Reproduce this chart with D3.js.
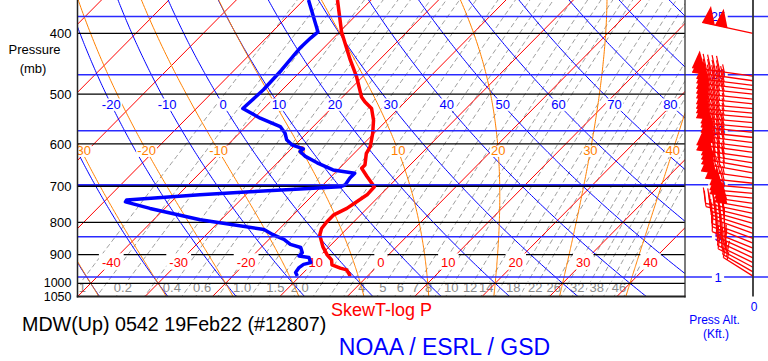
<!DOCTYPE html>
<html><head><meta charset="utf-8">
<script src="https://cdn.jsdelivr.net/npm/d3@7"></script>
<style>
html,body{margin:0;padding:0;background:#fff;}
svg{display:block;font-family:"Liberation Sans",Arial,Helvetica,sans-serif;}
</style></head><body>
<svg id="chart" width="768" height="361"></svg>
<script>
// ---------------- DATA ----------------
// Temperature profile (mb, °C)
const tempP = [354, 398, 441, 469, 505, 514, 527, 550, 577, 606, 621, 648, 656, 676, 702, 723, 741, 760, 778, 798, 818, 838, 875, 901, 918, 935, 946, 952, 970, 975];
const tempC = [-45.0, -39.7, -34.3, -30.9, -27.2, -26.0, -24.0, -22.0, -20.2, -18.6, -18.2, -16.7, -16.7, -14.7, -12.1, -12.0, -12.5, -13.0, -14.0, -14.0, -13.8, -13.1, -10.9, -9.1, -7.7, -6.9, -5.2, -4.0, -2.8, -2.6];
// Dewpoint profile (mb, °C)
const dewP = [354, 398, 407, 423, 458, 492, 527, 546, 563, 577, 591, 602, 611, 617, 628, 643, 660, 668, 680, 697, 702, 708, 715, 723, 737, 742, 760, 792, 821, 836, 841, 851, 867, 877, 894, 905, 910, 927, 933, 944, 961, 974];
const dewC = [-49.3, -43.2, -43.4, -43.5, -43.0, -42.8, -43.1, -39.1, -34.9, -33.2, -32.0, -30.5, -28.2, -28.3, -26.8, -24.1, -20.7, -17.0, -17.0, -16.7, -17.2, -22.8, -29.8, -36.8, -46.9, -46.8, -42.2, -33.1, -22.2, -20.2, -19.4, -17.8, -16.1, -14.1, -13.1, -13.1, -11.4, -10.4, -11.2, -11.4, -11.2, -10.4];
// Winds (mb, direction deg, speed kt)
const windP   = [400, 468, 476, 484, 492, 500, 509, 518, 527, 536, 545, 555, 565, 575, 586, 597, 608, 619, 631, 643, 655, 667, 680, 693, 706, 719, 732, 746, 760, 774, 788, 803, 818, 833, 848, 863, 879, 895, 911, 927, 943, 959, 974];
const windDir = [282, 278, 278, 277, 277, 276, 276, 276, 275, 275, 275, 275, 275, 276, 276, 277, 277, 278, 278, 279, 280, 280, 278, 276, 275, 275, 276, 278, 280, 282, 284, 286, 288, 290, 290, 292, 292, 294, 295, 296, 298, 300, 302];
const windKt  = [100, 95, 95, 90, 90, 90, 90, 85, 85, 85, 85, 85, 80, 80, 80, 80, 80, 85, 85, 80, 80, 75, 75, 70, 60, 55, 55, 50, 50, 45, 45, 40, 40, 40, 35, 35, 35, 30, 30, 25, 25, 20, 15];

// Reference lines / tick labels
const pressureLines = [400, 500, 600, 700, 800, 900, 1000];
const pressureLabels = [400, 500, 600, 700, 800, 900, 1000, 1050];
const isotherms = [-80, -70, -60, -50, -40, -30, -20, -10, 0, 10, 20, 30, 40, 50];
const isothermLabels = [-40, -30, -20, -10, 0, 10, 20, 30, 40];
const dryAdiabats = [-40, -30, -20, -10, 0, 10, 20, 30, 40, 50, 60, 70, 80, 90, 100, 110];
const dryLabels = [-20, -10, 0, 10, 20, 30, 40, 50, 60, 70, 80];
const moistAdiabats = [-40, -30, -20, -10, 0, 10, 20, 30, 40];
const moistLabels = [-30, -20, -10, 0, 10, 20, 30, 40];
const mixingRatios = [0.1, 0.15, 0.2, 0.3, 0.4, 0.5, 0.6, 0.8, 1.0, 1.2, 1.5, 2.0, 2.5, 3, 3.5, 4, 5, 6, 7, 8, 9, 10, 12, 14, 16, 18, 20, 22, 26, 29, 32, 35, 38, 42, 46, 50];
const mixingLabels = ["0.1", "0.2", "0.4", "0.6", "1.0", "1.5", "2.0", "4", "5", "6", "7", "8", "10", "12", "14", "18", "22", "26", "32", "38", "46"];
const heightKft = [1, 5, 10, 15, 20, 25];

// ---------------- SCALES ----------------
const svg = d3.select('#chart');
const PL = 77.5, PR = 685, PB = 296.6;
const y = d3.scaleLog().domain([1000, 400]).range([283.3, 33.3]);
const xT = d3.scaleLinear().domain([-40, 40]).range([90.7, 630]);
const SKEW = 0.99;
const X = (T, p) => xT(T) + (y(1000) - y(p)) * SKEW;
const pTop = y.invert(-3);
const pSamples = d3.range(0, 141).map(i => 1060 * Math.pow(pTop / 1060, i / 140));
const line = d3.line().x(d => d[0]).y(d => d[1]);

// thermo helpers
const Rd = 287.04, Cp = 1005.7, Lv = 2.501e6, EPS = 0.622;
const es = Tc => 6.112 * Math.exp(17.67 * Tc / (Tc + 243.5));
function dTdp(p, Tk) {
  const e = es(Tk - 273.15), rs = EPS * e / (p - e);
  return (Rd * Tk + Lv * rs) / (p * (Cp + Lv * Lv * rs * EPS / (Rd * Tk * Tk)));
}
function integrate(p0, T0, p1, dp) {
  let p = p0, T = T0; const out = [];
  while (dp < 0 ? p > p1 : p < p1) {
    const k1 = dTdp(p, T), k2 = dTdp(p + dp / 2, T + k1 * dp / 2),
          k3 = dTdp(p + dp / 2, T + k2 * dp / 2), k4 = dTdp(p + dp, T + k3 * dp);
    T += dp * (k1 + 2 * k2 + 2 * k3 + k4) / 6; p += dp; out.push([p, T - 273.15]);
  }
  return out;
}
function moistProfile(thw) {
  const up = integrate(1000, thw + 273.15, pTop - 5, -4);
  const down = integrate(1000, thw + 273.15, 1065, 4);
  return down.reverse().concat([[1000, thw]], up);
}
function interpT(prof, p) {
  for (let i = 0; i < prof.length - 1; i++) {
    const a = prof[i], b = prof[i + 1];
    if ((a[0] - p) * (b[0] - p) <= 0) {
      const f = (Math.log(p) - Math.log(a[0])) / (Math.log(b[0]) - Math.log(a[0]));
      return a[1] + f * (b[1] - a[1]);
    }
  }
  return prof[prof.length - 1][1];
}
function mixTd(w, p) {
  const e = w * p / (622 + w), L = Math.log(e / 6.112);
  return 243.5 * L / (17.67 - L);
}
const thetaT = (th, p) => (th + 273.15) * Math.pow(p / 1000, 0.2857) - 273.15;

// ---------------- DRAW ----------------
svg.append('rect').attr('width', 768).attr('height', 361).attr('fill', '#fff');
svg.append('defs').append('clipPath').attr('id', 'pc').append('rect')
  .attr('x', PL).attr('y', 0).attr('width', PR - PL).attr('height', PB);
const g = svg.append('g').attr('clip-path', 'url(#pc)');

function boxed(parent, x, cy, txt, color, size, padX, padT, padB) {
  const gg = parent.append('g');
  const capH = size * 0.716;
  const base = cy + capH / 2;
  const t = gg.append('text').attr('x', x).attr('y', base).attr('text-anchor', 'middle')
    .attr('font-size', size).attr('fill', color).text(txt);
  const bb = t.node().getBBox();
  gg.insert('rect', 'text').attr('x', bb.x - padX).attr('y', base - capH - padT)
    .attr('width', bb.width + 2 * padX).attr('height', capH + padT + padB).attr('fill', '#fff');
  return gg;
}

// mixing ratio lines
mixingRatios.forEach(w => {
  g.append('path').attr('d', line(pSamples.map(p => [X(mixTd(w, p), p), y(p)])))
    .attr('fill', 'none').attr('stroke', '#909090').attr('stroke-width', 0.9).attr('stroke-dasharray', '5,3');
});
// mixing labels (bottom)
const mixLabY = 287.3;
mixingLabels.forEach(s => {
  const w = +s, p = y.invert(mixLabY);
  boxed(g, X(mixTd(w, p), p), mixLabY, s, '#8a8a8a', 13, 1.5, 1, 2);
});

// isotherms
isotherms.forEach(T => {
  g.append('line').attr('x1', X(T, 1060)).attr('y1', y(1060)).attr('x2', X(T, pTop)).attr('y2', y(pTop))
    .attr('stroke', '#ff0000').attr('stroke-width', 1);
});
// dry adiabats
dryAdiabats.forEach(th => {
  g.append('path').attr('d', line(pSamples.map(p => [X(thetaT(th, p), p), y(p)])))
    .attr('fill', 'none').attr('stroke', '#0000ff').attr('stroke-width', 1);
});
// moist adiabats
const moistProfiles = {};
moistAdiabats.forEach(t => {
  const prof = moistProfile(t); moistProfiles[t] = prof;
  g.append('path').attr('d', line(prof.map(d => [X(d[1], d[0]), y(d[0])])))
    .attr('fill', 'none').attr('stroke', '#ff8000').attr('stroke-width', 1);
});
// moist labels
const moistLabY = 150.8;
moistLabels.forEach(t => {
  const p = y.invert(moistLabY);
  const prof = moistProfiles[t] || moistProfile(t);
  boxed(g, X(interpT(prof, p), p), moistLabY, String(t), '#ff8000', 13, 1, 0.5, 1.5);
});
// dry labels
const dryLabY = 104.7;
dryLabels.forEach(th => {
  const p = y.invert(dryLabY);
  boxed(g, X(thetaT(th, p), p), dryLabY, String(th), '#0000ff', 13, 1.5, 1.5, 1.5);
});

// pressure lines
pressureLines.forEach(p => {
  g.append('line').attr('x1', PL).attr('x2', PR).attr('y1', y(p)).attr('y2', y(p))
    .attr('stroke', '#000').attr('stroke-width', p === 700 ? 2 : 1.2);
});
// pressure altitude lines (std atmosphere)
const pAlt = h => 1013.25 * Math.pow(1 - 6.8756e-6 * h * 1000, 5.2559);
heightKft.forEach(h => {
  svg.append('line').attr('x1', PL).attr('x2', 768).attr('y1', y(pAlt(h))).attr('y2', y(pAlt(h)))
    .attr('stroke', '#2a2aff').attr('stroke-width', 1.5);
});

// isotherm labels
const isoLabY = 262.5;
isothermLabels.forEach(T => {
  const p = y.invert(isoLabY);
  boxed(g, X(T, p), isoLabY, String(T), '#ff0000', 13, 3, 4.5, 2.5);
});

// profiles
g.append('path').attr('d', line(tempP.map((p, i) => [X(tempC[i], p), y(p)])))
  .attr('fill', 'none').attr('stroke', '#ff0000').attr('stroke-width', 3.5).attr('stroke-linejoin', 'round');
g.append('path').attr('d', line(dewP.map((p, i) => [X(dewC[i], p), y(p)])))
  .attr('fill', 'none').attr('stroke', '#0000ff').attr('stroke-width', 3.5).attr('stroke-linejoin', 'round');

// frame
svg.append('line').attr('x1', PL).attr('x2', PL).attr('y1', 0).attr('y2', PB + 1).attr('stroke', '#222').attr('stroke-width', 1.5);
svg.append('line').attr('x1', PR).attr('x2', PR).attr('y1', 0).attr('y2', PB + 1).attr('stroke', '#333').attr('stroke-width', 1.3);
svg.append('line').attr('x1', PL - 0.75).attr('x2', PR + 0.6).attr('y1', PB).attr('y2', PB).attr('stroke', '#222').attr('stroke-width', 2);

// pressure tick labels
pressureLabels.forEach(p => {
  const small = p >= 1000;
  const cy = p === 1050 ? y(p) - 0.5 : (p === 1000 ? y(p) - 0.8 : y(p));
  const fs = small ? 12.5 : 13;
  svg.append('text').attr('x', 71.5).attr('y', cy + fs * 0.358).attr('text-anchor', 'end')
    .attr('font-size', fs).attr('fill', '#000').text(p);
});
svg.append('text').attr('x', 34.5).attr('y', 54).attr('text-anchor', 'middle').attr('font-size', 13).text('Pressure');
svg.append('text').attr('x', 33).attr('y', 73).attr('text-anchor', 'middle').attr('font-size', 13).text('(mb)');

// wind column
const WX = 753;
const hLab = svg.append('g');
heightKft.forEach(h => {
  boxed(hLab, 718, y(pAlt(h)), String(h), '#0000ff', 13, 2.5, 2, 2);
});
const gw = svg.append('g');
function barb(p, dir, spd) {
  const oy = y(p), r = dir * Math.PI / 180;
  const ux = Math.sin(r), uy = -Math.cos(r);
  const px = -uy, py = ux;
  let s = Math.round(spd / 5) * 5;
  const nP = Math.floor(s / 50); s -= nP * 50;
  const nB = Math.floor(s / 10); s -= nB * 10;
  const nH = s >= 5 ? 1 : 0;
  const L = 26 + nP * 13 + (nB + nH) * 4.5;
  const P = t => [WX + ux * t, oy + uy * t];
  gw.append('line').attr('x1', WX).attr('y1', oy).attr('x2', P(L)[0]).attr('y2', P(L)[1])
    .attr('stroke', '#ff0000').attr('stroke-width', 1.3);
  let pos = L;
  for (let i = 0; i < nP; i++) {
    const a = P(pos), b = P(pos - 13), m = P(pos - 13 * 0.4);
    gw.append('polygon').attr('points', [a, [m[0] + px * 18, m[1] + py * 18], b].map(d => d.join(',')).join(' '))
      .attr('fill', '#ff0000');
    pos -= 13;
  }
  if (nP > 0) pos -= 1.5;
  const fx = px * 0.94 + ux * 0.34, fy = py * 0.94 + uy * 0.34;
  for (let i = 0; i < nB; i++) {
    const a = P(pos);
    gw.append('line').attr('x1', a[0]).attr('y1', a[1]).attr('x2', a[0] + fx * 16).attr('y2', a[1] + fy * 16)
      .attr('stroke', '#ff0000').attr('stroke-width', 1.2);
    pos -= 4.5;
  }
  if (nH) {
    const a = P(pos);
    gw.append('line').attr('x1', a[0]).attr('y1', a[1]).attr('x2', a[0] + fx * 8).attr('y2', a[1] + fy * 8)
      .attr('stroke', '#ff0000').attr('stroke-width', 1.2);
  }
}
windP.forEach((p, i) => barb(p, windDir[i], windKt[i]));
svg.append('line').attr('x1', WX).attr('x2', WX).attr('y1', 0).attr('y2', PB).attr('stroke', '#333').attr('stroke-width', 1.8);
svg.append('text').attr('x', WX + 1).attr('y', 311).attr('text-anchor', 'middle').attr('font-size', 12).attr('fill', '#0000ff').text('0');
svg.append('text').attr('x', 714.5).attr('y', 324).attr('text-anchor', 'middle').attr('font-size', 12).attr('fill', '#0000ff').text('Press Alt.');
svg.append('text').attr('x', 716).attr('y', 338).attr('text-anchor', 'middle').attr('font-size', 12).attr('fill', '#0000ff').text('(Kft.)');

// titles
svg.append('text').attr('x', 381.5).attr('y', 315.5).attr('text-anchor', 'middle').attr('font-size', 18).attr('fill', '#ff0000').text('SkewT-log P');
svg.append('text').attr('x', 22).attr('y', 331).attr('font-size', 19.7).attr('fill', '#000').text('MDW(Up) 0542 19Feb22 (#12807)');
svg.append('text').attr('x', 444.5).attr('y', 355).attr('text-anchor', 'middle').attr('font-size', 23).attr('fill', '#0000ff').text('NOAA / ESRL / GSD');
</script>
</body></html>
